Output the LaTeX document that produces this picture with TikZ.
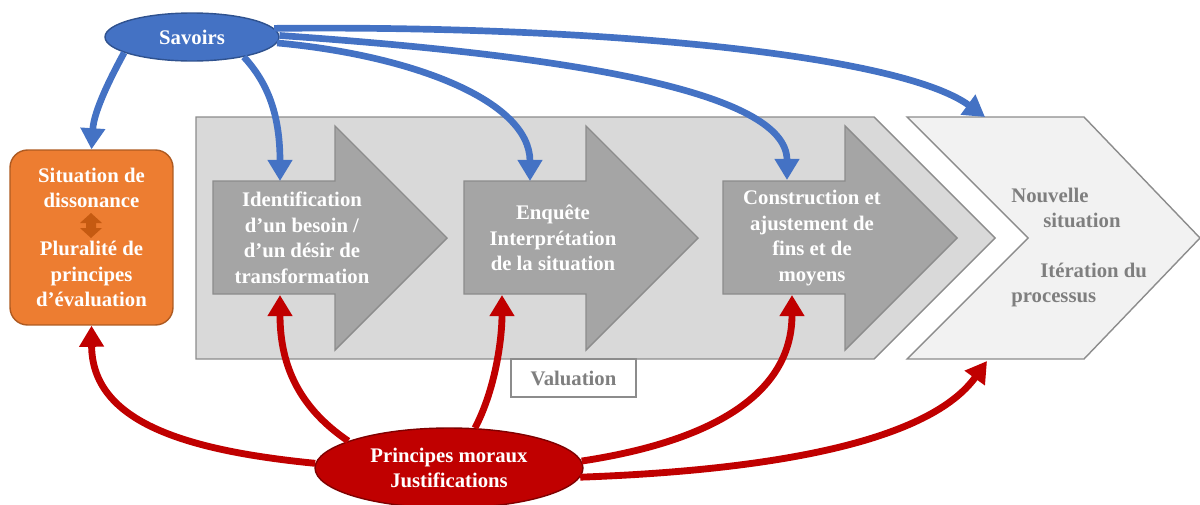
\documentclass[tikz,border=0pt]{standalone}
\usepackage{fontspec}
\setmainfont{Liberation Serif}
\usetikzlibrary{arrows.meta,shapes.geometric}

\definecolor{savblue}{HTML}{4472C4}
\definecolor{savedge}{HTML}{2F528F}
\definecolor{morred}{HTML}{C00000}
\definecolor{moredge}{HTML}{7F0000}
\definecolor{disorange}{HTML}{ED7D31}
\definecolor{disedge}{HTML}{AE5A21}
\definecolor{disdark}{HTML}{C55A11}
\definecolor{valgray}{HTML}{D9D9D9}
\definecolor{stepgray}{HTML}{A5A5A5}
\definecolor{newgray}{HTML}{F2F2F2}
\definecolor{edgegray}{HTML}{8C8C8C}
\definecolor{textgray}{HTML}{7F7F7F}

\tikzset{
  chev/.style={draw=edgegray, line width=0.8pt},
  stepar/.style={draw=edgegray, fill=stepgray, line width=0.8pt},
  steptext/.style={text=white, align=center, inner sep=0pt},
  newtext/.style={text=textgray, align=left, inner sep=0pt, anchor=west},
  savarrow/.style={draw=savblue, line width=3.8pt, -{Triangle[width=13.5pt,length=12pt]}},
  morarrow/.style={draw=morred, line width=3.9pt, -{Triangle[width=13.5pt,length=12pt]}}
}

\begin{document}
\begin{tikzpicture}[x=0.02cm, y=-0.02cm, font=\bfseries\fontsize{11.8}{14.5}\selectfont]
\useasboundingbox (0,0) rectangle (1200,504);
\clip (0,0) rectangle (1200,504);

% chevrons
\draw[chev, fill=valgray] (196,117) -- (874,117) -- (995,238) -- (874,359) -- (196,359) -- cycle;
\draw[chev, fill=newgray] (907,117) -- (1084,117) -- (1200,238) -- (1084,359) -- (907,359) -- (1028,238) -- cycle;

% the three steps
\draw[stepar] (213,181) -- (335,181) -- (335,126) -- (447,238) -- (335,350) -- (335,294) -- (213,294) -- cycle;
\draw[stepar] (464,181) -- (586,181) -- (586,126) -- (698,238) -- (586,350) -- (586,294) -- (464,294) -- cycle;
\draw[stepar] (723,181) -- (845,181) -- (845,126) -- (957,238) -- (845,350) -- (845,294) -- (723,294) -- cycle;
\node[steptext] (ident) at (302,238) {Identification\\d’un besoin /\\d’un désir de\\transformation};
\node[steptext] (enq) at (553,238) {Enquête\\Interprétation\\de la situation};
\node[steptext] (cons) at (812,238) {Construction et\\ajustement de\\fins et de\\moyens};
\coordinate (identtop) at (280,181); \coordinate (identbot) at (280,295);
\coordinate (enqtop) at (530,181); \coordinate (enqbot) at (502,295);
\coordinate (constop) at (787,180); \coordinate (consbot) at (792,295);
\coordinate (newtop) at (985,117); \coordinate (newbot) at (987,361);

\node[newtext] (nouv) at (1011,208) {Nouvelle\\\hspace*{0.64cm}situation};
\node[newtext] (iter) at (1011,285) {\hspace*{0.58cm}Itération du\\processus};

\node[draw=edgegray, fill=white, line width=0.8pt, text=textgray, minimum width=2.5cm, minimum height=0.76cm] (val) at (573.5,378) {Valuation};

% dissonance box
\node[draw=disedge, fill=disorange, line width=0.8pt, rounded corners=10pt, minimum width=3.26cm, minimum height=3.5cm, text=white, align=center, inner sep=0pt] (dis) at (91.5,237.5) {Situation de\\dissonance\\[13pt]Pluralité de\\principes\\d’évaluation};
\fill[disdark] (91,213) -- (102,223) -- (96,223) -- (96,228) -- (102,228) -- (91,238) -- (80,228) -- (86,228) -- (86,223) -- (80,223) -- cycle;

% ellipses
\node[ellipse, draw=savedge, fill=savblue, line width=0.8pt, minimum width=3.48cm, minimum height=0.96cm, text=white, inner sep=0pt] (sav) at (192,37) {Savoirs};
\node[ellipse, draw=moredge, fill=morred, line width=0.8pt, minimum width=5.36cm, minimum height=1.6cm, text=white, align=center, inner sep=0pt] (mor) at (449,468) {Principes moraux\\Justifications};

% savoirs
\draw[savarrow] (sav.193) .. controls (112,75) and (94,110) .. (dis.north);
\draw[savarrow] (sav.-21) .. controls (265,80) and (280,110) .. (identtop);
\draw[savarrow] (sav.-4) .. controls (410,55) and (530,100) .. (enqtop);
\draw[savarrow] (sav.1) .. controls (560,55) and (787,90) .. (constop);
\draw[savarrow] (sav.6) .. controls (600,25) and (900,55) .. (newtop);

% principes
\draw[morarrow] (mor.178) .. controls (180,450) and (92,420) .. (dis.south);
\draw[morarrow] (mor.165) .. controls (295,405) and (280,360) .. (identbot);
\draw[morarrow] (mor.57) .. controls (495,390) and (502,340) .. (enqbot);
\draw[morarrow] (mor.3) .. controls (720,440) and (792,390) .. (consbot);
\draw[morarrow] (mor.-4) .. controls (780,470) and (930,440) .. (newbot);
\end{tikzpicture}
\end{document}
